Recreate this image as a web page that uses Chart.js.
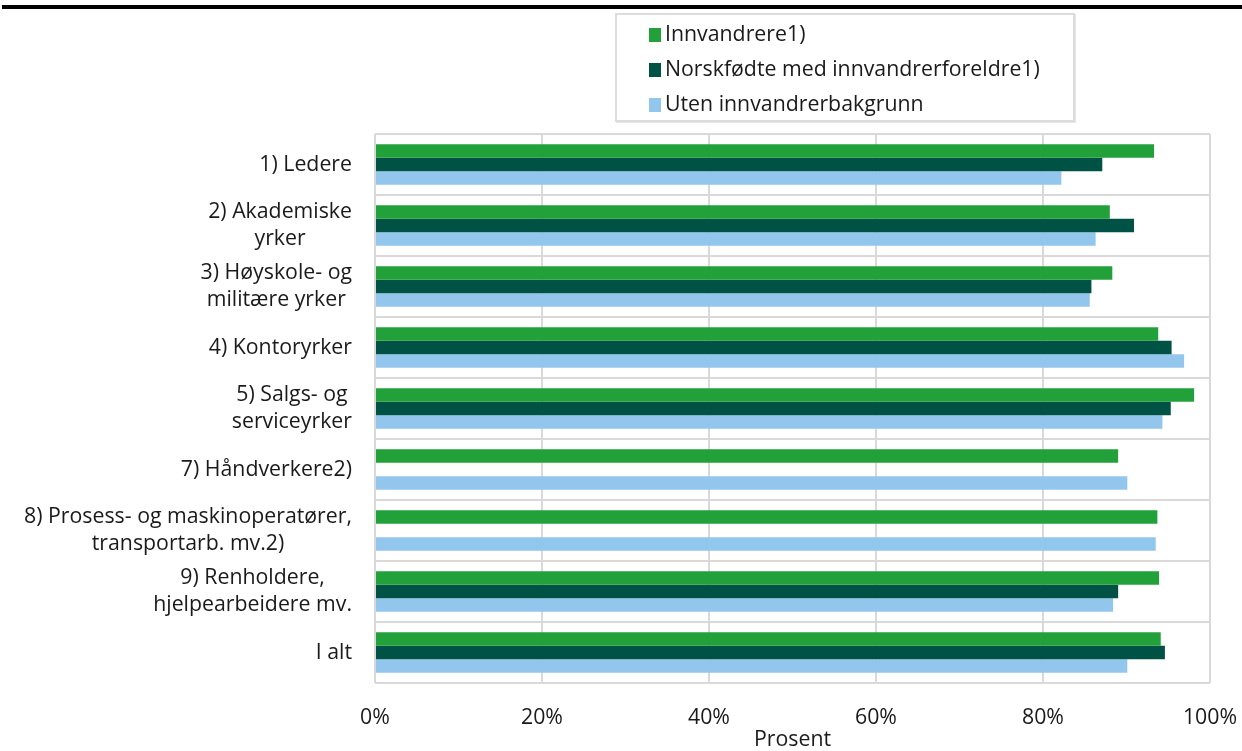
<!DOCTYPE html>
<html>
<head>
<meta charset="utf-8">
<script src="https://cdn.jsdelivr.net/npm/chart.js@4.4.1/dist/chart.umd.min.js"></script>
<style>
  html, body { margin: 0; padding: 0; background: #fff; }
  #wrap { position: relative; width: 1242px; height: 751px; font-family: "Open Sans", sans-serif; }
  #topline { position: absolute; left: 2px; right: 0; top: 5px; height: 4px; background: #000; }
  #legend { position: absolute; left: 615px; top: 13px; width: 456px; height: 105px;
            border: 2px solid #dcdcdc; box-shadow: 1px 1px 0 #e6e6e6; background: #fff; z-index: 2; }
  .item { position: absolute; left: 32px; font-size: 21.3px; color: #1a1a1a; line-height: 24px; white-space: nowrap; }
  .item span { display: inline-block; width: 12px; height: 14px; margin-right: 4px; vertical-align: -1px; }
  canvas { position: absolute; left: 0; top: 0; }
</style>
</head>
<body>
<div id="wrap">
  <div id="topline"></div>
  <div id="legend"></div>
  <canvas id="chart" width="1242" height="751"></canvas>
</div>
<script>
// -----------------------
// Data
// -----------------------
const categories = [
  ["1) Ledere"],
  ["2) Akademiske", "yrker"],
  ["3) Høyskole- og", "militære yrker"],
  ["4) Kontoryrker"],
  ["5) Salgs- og", "serviceyrker"],
  ["7) Håndverkere2)"],
  ["8) Prosess- og maskinoperatører,", "transportarb. mv.2)"],
  ["9) Renholdere,", "hjelpearbeidere mv."],
  ["I alt"]
];
const seriesNames = ["Innvandrere1)", "Norskfødte med innvandrerforeldre1)", "Uten innvandrerbakgrunn"];
const innvandrere = [93.3, 88.0, 88.3, 93.8, 98.1, 89.0, 93.7, 93.9, 94.1];
const norskfodte = [87.1, 90.9, 85.8, 95.4, 95.3, null, null, 89.0, 94.6];
const utenBakgrunn = [82.2, 86.3, 85.6, 96.9, 94.3, 90.1, 93.5, 88.4, 90.1];
const xTicks = [0, 20, 40, 60, 80, 100];

const colors = ["#22a03a", "#005245", "#93c6ec"];
const FONT = "Open Sans";
const FSIZE = 21.3;

// -----------------------
// Legend (HTML)
// -----------------------
const legendEl = document.getElementById("legend");
seriesNames.forEach((name, i) => {
  const d = document.createElement("div");
  d.className = "item";
  d.style.top = (6 + i * 35) + "px";
  d.innerHTML = `<span style="background:${colors[i]}"></span>${name}`;
  legendEl.appendChild(d);
});

// -----------------------
// Y labels: block right-aligned, lines centered
// -----------------------
const yLabelPlugin = {
  id: "yLabels",
  afterDraw(chart) {
    const ctx = chart.ctx;
    const y = chart.scales.y;
    const right = y.right - 23;
    const lh = 27.5;
    ctx.save();
    ctx.font = `${FSIZE}px "${FONT}"`;
    ctx.fillStyle = "#1a1a1a";
    ctx.textAlign = "center";
    ctx.textBaseline = "middle";
    categories.forEach((lines, i) => {
      const cy = y.getPixelForValue(i);
      const w = Math.max(...lines.map(l => ctx.measureText(l).width));
      const cx = right - w / 2;
      lines.forEach((l, j) => {
        ctx.fillText(l, cx, cy + (j - (lines.length - 1) / 2) * lh);
      });
    });
    ctx.restore();
  }
};

// -----------------------
// Chart
// -----------------------
const ctx = document.getElementById("chart").getContext("2d");
new Chart(ctx, {
  type: "bar",
  data: {
    labels: categories.map(c => c.join(" ")),
    datasets: [
      { label: seriesNames[0], data: innvandrere, backgroundColor: colors[0] },
      { label: seriesNames[1], data: norskfodte, backgroundColor: colors[1] },
      { label: seriesNames[2], data: utenBakgrunn, backgroundColor: colors[2] }
    ]
  },
  options: {
    indexAxis: "y",
    responsive: false,
    animation: false,
    events: [],
    datasets: { bar: { categoryPercentage: 0.66, barPercentage: 1.0 } },
    layout: { padding: { top: 134, right: 32, bottom: 0, left: 0 } },
    plugins: { legend: { display: false }, tooltip: { enabled: false } },
    scales: {
      x: {
        min: 0, max: 100,
        afterBuildTicks: s => { s.ticks = xTicks.map(v => ({ value: v })); },
        afterFit: s => { s.height = 68; s.paddingLeft = 0; s.paddingRight = 0; },
        grid: { color: "#d9d9d9", lineWidth: 2, drawTicks: false },
        border: { display: false },
        ticks: {
          padding: 22,
          color: "#1a1a1a",
          font: { family: FONT, size: FSIZE },
          callback: v => v + "%",
          maxRotation: 0
        },
        title: {
          display: true, text: "Prosent", color: "#1a1a1a",
          font: { family: FONT, size: FSIZE, lineHeight: 1.0 }, padding: { top: 0, bottom: 0 }
        }
      },
      y: {
        afterFit: s => { s.width = 375; s.paddingTop = 0; s.paddingBottom = 0; },
        grid: { color: "#d9d9d9", lineWidth: 2, drawTicks: false, offset: true },
        border: { display: false },
        ticks: { display: false }
      }
    }
  },
  plugins: [yLabelPlugin]
});
</script>
</body>
</html>
